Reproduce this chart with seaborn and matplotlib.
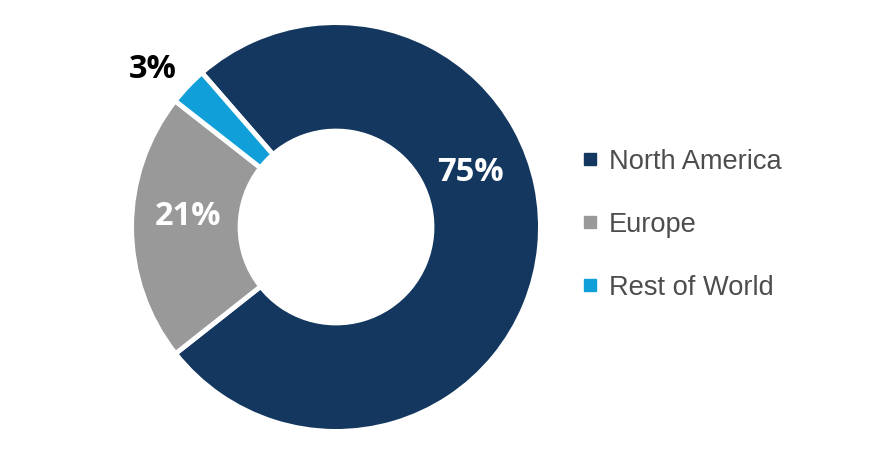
import matplotlib
matplotlib.use("Agg")
import matplotlib.pyplot as plt
from matplotlib.lines import Line2D
import seaborn as sns

# data
regions = ["North America", "Europe", "Rest of World"]
shares = [75, 21, 3]
share_labels = ["75%", "21%", "3%"]
colors = ["#13375f", "#999999", "#109fd8"]
label_colors = ["white", "white", "black"]
label_pos = [(0.663, 0.272), (-0.733, 0.054), (-0.906, 0.782)]

sns.set_theme(style="white")
plt.rcParams["font.family"] = ["Open Sans", "DejaVu Sans"]

fig = plt.figure(figsize=(8.8, 4.62), dpi=100)
# square axes holding the donut
ax = fig.add_axes([0.1523, 0.0714, 0.4591, 0.8745])

wedges, _ = ax.pie(shares, colors=colors, startangle=131, counterclock=False,
                   radius=1.012,
                   wedgeprops=dict(width=0.537, edgecolor="white", linewidth=3.5))
ax.set_xlim(-1, 1)
ax.set_ylim(-1, 1)
ax.set_aspect("equal")
ax.axis("off")

for txt, pos, c in zip(share_labels, label_pos, label_colors):
    ax.text(pos[0], pos[1], txt, ha="center", va="center", color=c,
            fontsize=23.5, fontweight="bold", family=["Open Sans", "DejaVu Sans"])

handles = [Line2D([], [], marker="s", linestyle="none", markersize=8,
                  markerfacecolor=c, markeredgecolor=c) for c in colors]
fig.legend(handles, regions, loc="center left", bbox_to_anchor=(0.660, 0.513),
           frameon=False, borderpad=0, borderaxespad=0, handlelength=0.7,
           handletextpad=0.32, labelspacing=1.36,
           prop=dict(family=["Liberation Sans", "DejaVu Sans"], size=19.6),
           labelcolor="#4d4d4d")

fig.savefig("out.png", dpi=100, facecolor="white")
